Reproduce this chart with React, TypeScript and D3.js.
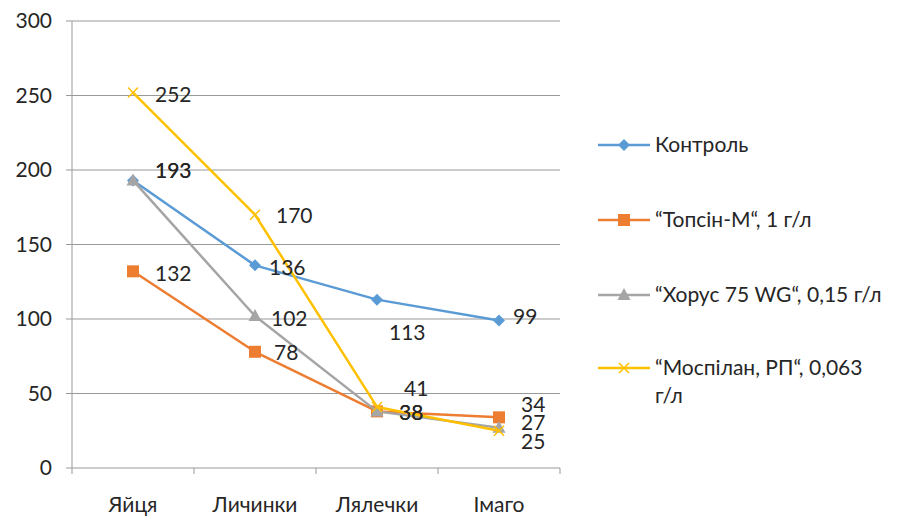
import React from "react";
import * as d3 from "d3";

const categories = ["Яйця", "Личинки", "Лялечки", "Імаго"];
const seriesNames = [
  "Контроль",
  "“Топсін-М“, 1 г/л",
  "“Хорус 75 WG“, 0,15 г/л",
  "“Моспілан, РП“, 0,063 г/л",
];
const kontrol = [193, 136, 113, 99];
const topsin = [132, 78, 38, 34];
const khorus = [193, 102, 38, 27];
const mospilan = [252, 170, 41, 25];
const yTicks = [0, 50, 100, 150, 200, 250, 300];

const colors = ["#5B9BD5", "#ED7D31", "#A5A5A5", "#FFC000"];
const markers = ["diamond", "square", "triangle", "x"];
// label offsets (dx, dy) relative to each point
const labelOffsets = [
  [[22, -10], [14, 2], [12, 33], [14, -4]],
  [[22, 2], [19, 1], [22, 1], [22, -13]],
  [[22, -10], [16, 3], [22, 1], [22, -5]],
  [[22, 2], [21, 1], [27, -18], [22, 11]],
];

const W = 901, H = 520;
const left = 72, right = 560, top = 21, bottom = 468;

function Marker({ type, x, y, color }: { type: string; x: number; y: number; color: string }) {
  if (type === "diamond")
    return <path d={`M${x},${y - 6}L${x + 6},${y}L${x},${y + 6}L${x - 6},${y}Z`} fill={color} />;
  if (type === "square")
    return <rect x={x - 6} y={y - 6} width={12} height={12} fill={color} />;
  if (type === "triangle")
    return <path d={`M${x},${y - 7}L${x + 6.5},${y + 5}L${x - 6.5},${y + 5}Z`} fill={color} />;
  return (
    <path d={`M${x - 5},${y - 5}L${x + 5},${y + 5}M${x - 5},${y + 5}L${x + 5},${y - 5}`} stroke={color} strokeWidth={1.5} />
  );
}

export default function App() {
  const data = [kontrol, topsin, khorus, mospilan];
  const x = d3.scaleBand<string>().domain(categories).range([left, right]);
  const y = d3.scaleLinear().domain([0, 300]).range([bottom, top]);
  const cx = (c: string) => (x(c) as number) + x.bandwidth() / 2;
  const line = d3
    .line<number>()
    .x((_, i) => cx(categories[i]))
    .y((d) => y(d));
  const font = "Lato, 'Open Sans', sans-serif";
  const legendY = [145, 220, 295, 368];
  const fs = 21;
  return (
    <svg width={W} height={H} style={{ position: "absolute", left: 0, top: 0, background: "#fff" }} fontFamily={font}>
      {yTicks.map((t) => (
        <g key={t}>
          <line x1={left - 6} x2={right} y1={y(t)} y2={y(t)} stroke="#999" strokeWidth={1} />
          <text x={52} y={y(t)} dy="0.35em" textAnchor="end" fontSize={fs} fill="#262626">
            {t}
          </text>
        </g>
      ))}
      <line x1={left} x2={left} y1={top} y2={bottom} stroke="#999" />
      {categories.map((c, i) => (
        <line key={i} x1={(x(c) as number)} x2={(x(c) as number)} y1={bottom} y2={bottom + 6} stroke="#999" />
      ))}
      <line x1={right} x2={right} y1={bottom} y2={bottom + 6} stroke="#999" />
      {categories.map((c) => (
        <text key={c} x={cx(c)} y={512} textAnchor="middle" fontSize={fs} fill="#262626">
          {c}
        </text>
      ))}
      {data.map((s, si) => (
        <g key={si}>
          <path d={line(s) || ""} fill="none" stroke={colors[si]} strokeWidth={2.5} strokeLinejoin="round" />
          {s.map((v, i) => (
            <Marker key={i} type={markers[si]} x={cx(categories[i])} y={y(v)} color={colors[si]} />
          ))}
        </g>
      ))}
      {data.map((s, si) =>
        s.map((v, i) => (
          <text
            key={`${si}-${i}`}
            x={cx(categories[i]) + labelOffsets[si][i][0]}
            y={y(v) + labelOffsets[si][i][1]}
            dy="0.35em"
            fontSize={fs}
            fill="#262626"
          >
            {v}
          </text>
        ))
      )}
      {seriesNames.map((n, i) => (
        <g key={n}>
          <line x1={598} x2={650} y1={legendY[i]} y2={legendY[i]} stroke={colors[i]} strokeWidth={2.5} />
          <Marker type={markers[i]} x={624} y={legendY[i]} color={colors[i]} />
          {i < 3 ? (
            <text x={655} y={legendY[i]} dy="0.35em" fontSize={fs} fill="#262626">
              {n}
            </text>
          ) : (
            <text x={655} y={legendY[i]} dy="0.35em" fontSize={fs} fill="#262626">
              <tspan>{"“Моспілан, РП“, 0,063"}</tspan>
              <tspan x={655} dy="1.3em">г/л</tspan>
            </text>
          )}
        </g>
      ))}
    </svg>
  );
}
